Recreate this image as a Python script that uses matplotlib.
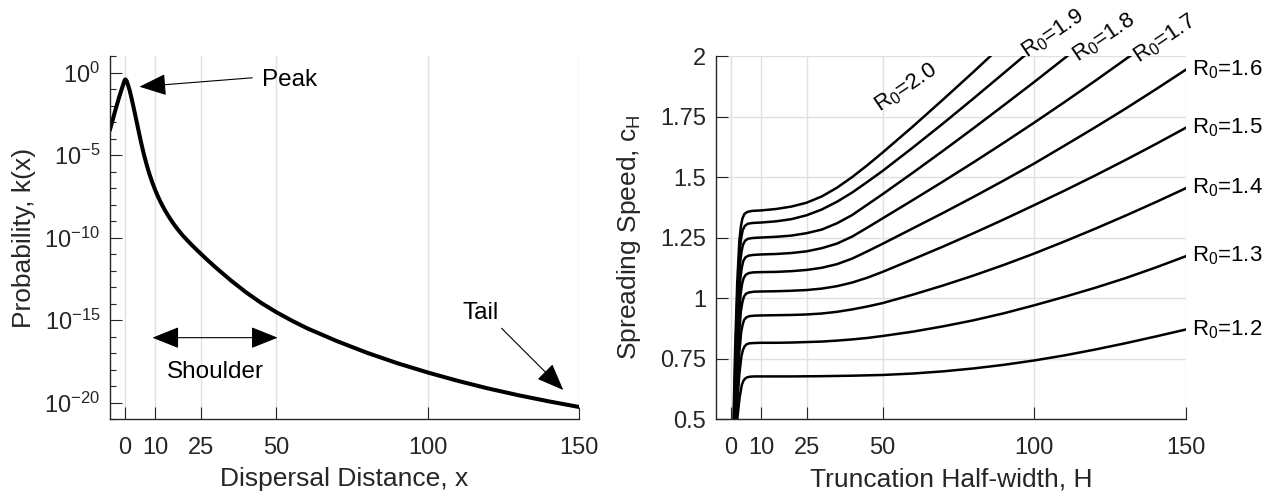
import matplotlib
matplotlib.use('Agg')
import matplotlib.pyplot as plt
import numpy as np
from matplotlib.ticker import FixedLocator, LogLocator, NullFormatter, LogFormatterSciNotation, FuncFormatter

plt.rcParams['font.family'] = ['Liberation Sans', 'DejaVu Sans']
plt.rcParams['mathtext.default'] = 'regular'

INK = '#262626'
GRID = '#e0e0e0'

# dispersal kernel k(x), stored as log10 values
dist_x = [-5, -4, -3, -2, -1, -0.5, -0.2, 0, 0.25, 0.5, 1, 1.5, 2, 2.5, 3, 3.5, 4, 4.5, 5,
          5.5, 6, 6.5, 7, 7.5, 8, 9, 10, 11, 12, 13, 14, 15, 16, 17, 18, 19, 20, 22, 24, 27,
          30, 35, 40, 45, 50, 55, 60, 70, 80, 90, 100, 110, 120, 130, 140, 150]
log_k = [-3.44, -2.78, -2.13, -1.5, -0.92, -0.64, -0.48, -0.42, -0.45, -0.52, -0.78, -1.1,
         -1.48, -1.88, -2.3, -2.73, -3.16, -3.6, -4.02, -4.43, -4.82, -5.18, -5.52, -5.84,
         -6.14, -6.68, -7.16, -7.58, -7.96, -8.3, -8.61, -8.9, -9.17, -9.42, -9.65, -9.87,
         -10.07, -10.45, -10.81, -11.33, -11.83, -12.61, -13.33, -13.97, -14.53, -15.03,
         -15.49, -16.28, -16.99, -17.62, -18.18, -18.69, -19.15, -19.56, -19.93, -20.27]
x_ticks = [0, 10, 25, 50, 100, 150]

# spreading speed c_H against truncation half-width H, one curve per R0
H_12 = [1.5, 2.2, 2.9, 3.6, 4.1, 4.6, 5.3, 6.3, 7.8, 10, 20, 30, 40, 50, 60, 70, 80, 90,
        100, 110, 120, 130, 140, 150]
C_12 = [0.40, 0.510, 0.590, 0.640, 0.657, 0.666, 0.672, 0.675, 0.676, 0.676, 0.676, 0.677,
        0.679, 0.682, 0.688, 0.697, 0.709, 0.724, 0.742, 0.763, 0.787, 0.813, 0.841, 0.870]
H_13 = [1.4, 2.1, 2.8, 3.5, 4.0, 4.5, 5.2, 6.2, 7.7, 10, 15, 20, 25, 30, 35, 40, 45, 50,
        60, 70, 80, 90, 100, 110, 120, 130, 140, 150]
C_13 = [0.40, 0.566, 0.686, 0.761, 0.786, 0.800, 0.809, 0.813, 0.814, 0.815, 0.815, 0.816,
        0.818, 0.820, 0.824, 0.829, 0.835, 0.843, 0.861, 0.883, 0.908, 0.937, 0.970, 1.005,
        1.042, 1.082, 1.126, 1.173]
H_14 = [1.3, 2.0, 2.7, 3.4, 3.9, 4.4, 5.1, 6.1, 7.6, 10, 15, 20, 25, 30, 35, 40, 45, 50,
        60, 70, 80, 90, 100, 110, 120, 130, 140, 150]
C_14 = [0.40, 0.611, 0.764, 0.859, 0.891, 0.910, 0.920, 0.925, 0.927, 0.928, 0.929, 0.930,
        0.932, 0.936, 0.943, 0.953, 0.965, 0.979, 1.014, 1.052, 1.093, 1.137, 1.184, 1.234,
        1.286, 1.340, 1.396, 1.454]
H_15 = [1.2, 1.9, 2.6, 3.3, 3.8, 4.3, 5.0, 6.0, 7.5, 10, 15, 20, 25, 30, 35, 40, 45, 50,
        60, 70, 80, 90, 100, 110, 120, 130, 140, 150]
C_15 = [0.40, 0.651, 0.833, 0.945, 0.983, 1.005, 1.018, 1.023, 1.026, 1.027, 1.028, 1.030,
        1.033, 1.039, 1.049, 1.064, 1.084, 1.108, 1.160, 1.213, 1.268, 1.325, 1.384, 1.444,
        1.506, 1.570, 1.636, 1.704]
H_16 = [1.1, 1.8, 2.5, 3.2, 3.7, 4.2, 4.9, 5.9, 7.4, 10, 15, 20, 25, 30, 35, 40, 45, 50,
        60, 70, 80, 90, 100, 110, 120, 130, 140, 150]
C_16 = [0.40, 0.683, 0.888, 1.015, 1.058, 1.082, 1.096, 1.103, 1.106, 1.107, 1.108, 1.111,
        1.116, 1.125, 1.140, 1.163, 1.193, 1.224, 1.288, 1.352, 1.418, 1.486, 1.556, 1.630,
        1.705, 1.782, 1.862, 1.944]
H_17 = [1.0, 1.7, 2.4, 3.1, 3.6, 4.1, 4.8, 5.8, 7.3, 10, 15, 20, 25, 30, 35, 40, 45, 50,
        60, 70, 80, 90, 100, 110, 120, 132]
C_17 = [0.40, 0.712, 0.938, 1.079, 1.125, 1.153, 1.168, 1.175, 1.178, 1.180, 1.182, 1.186,
        1.193, 1.206, 1.225, 1.254, 1.291, 1.329, 1.405, 1.482, 1.561, 1.642, 1.725, 1.810,
        1.897, 2.004]
H_18 = [0.9, 1.6, 2.3, 3.0, 3.5, 4.0, 4.7, 5.7, 7.2, 10, 15, 20, 25, 30, 35, 40, 45, 50,
        60, 70, 80, 90, 100, 112]
C_18 = [0.40, 0.74, 0.987, 1.140, 1.191, 1.220, 1.237, 1.245, 1.248, 1.250, 1.253, 1.258,
        1.268, 1.283, 1.309, 1.343, 1.386, 1.429, 1.518, 1.609, 1.702, 1.797, 1.893, 2.011]
H_19 = [0.8, 1.5, 2.2, 2.9, 3.4, 3.9, 4.6, 5.6, 7.1, 10, 15, 20, 25, 30, 35, 40, 45, 50,
        60, 70, 80, 90, 97]
C_19 = [0.40, 0.765, 1.029, 1.193, 1.248, 1.280, 1.298, 1.307, 1.310, 1.312, 1.317, 1.326,
        1.342, 1.366, 1.398, 1.436, 1.480, 1.525, 1.622, 1.722, 1.825, 1.930, 2.004]
H_20 = [0.7, 1.4, 2.1, 2.8, 3.3, 3.8, 4.5, 5.5, 7, 10, 15, 20, 25, 30, 35, 40, 45, 50,
        60, 70, 80, 86]
C_20 = [0.40, 0.785, 1.064, 1.237, 1.295, 1.328, 1.348, 1.356, 1.360, 1.362, 1.368, 1.378,
        1.394, 1.420, 1.456, 1.500, 1.549, 1.601, 1.709, 1.821, 1.935, 2.005]

r0_labels = ['1.2', '1.3', '1.4', '1.5', '1.6', '1.7', '1.8', '1.9', '2.0']
speed_ticks = [0.5, 0.75, 1, 1.25, 1.5, 1.75, 2]

fig = plt.figure(figsize=(12.62, 4.94), dpi=100)
ax1 = fig.add_axes([0.0872, 0.1518, 0.3716, 0.7348])
ax2 = fig.add_axes([0.5671, 0.1518, 0.3727, 0.7348])

for ax in (ax1, ax2):
    ax.spines[['top', 'right']].set_visible(False)
    ax.spines[['left', 'bottom']].set_color(INK)
    ax.spines[['left', 'bottom']].set_linewidth(1.0)
    ax.tick_params(which='major', direction='in', length=8.6, width=0.8, colors=INK,
                   labelsize=17, pad=7)
    ax.tick_params(axis='x', pad=13)
    ax.tick_params(which='minor', direction='in', length=4.3, width=0.8, colors=INK)
    ax.set_axisbelow(True)
    ax.set_xlim(-5, 150)
    ax.set_xticks(x_ticks)

# left panel: kernel on a log axis
ax1.plot(dist_x, 10.0 ** np.array(log_k), color='k', lw=2.9, solid_joinstyle='round')
ax1.set_yscale('log')
ax1.set_ylim(1e-21, 1e1)
ax1.yaxis.set_major_locator(FixedLocator([1e0, 1e-5, 1e-10, 1e-15, 1e-20]))
ax1.yaxis.set_major_formatter(LogFormatterSciNotation())
ax1.yaxis.set_minor_locator(LogLocator(base=10, subs=(1.0,), numticks=40))
ax1.yaxis.set_minor_formatter(NullFormatter())
ax1.grid(axis='x', color=GRID, lw=1.0)
ax1.set_xlabel('Dispersal Distance, x', fontsize=19, color=INK, labelpad=6)
ax1.set_ylabel('Probability, k(x)', fontsize=19, color=INK, labelpad=6)

head = '-|>,head_length=0.85,head_width=0.34'
ax1.annotate('', xy=(4.7, 10 ** -0.86), xytext=(42, 10 ** -0.32),
             arrowprops=dict(arrowstyle=head, mutation_scale=20, color='k', lw=0.8,
                             shrinkA=0, shrinkB=0))
ax1.text(45.3, 10 ** -0.45, 'Peak', ha='left', va='center', fontsize=17.5)

ax1.annotate('', xy=(50.4, 10 ** -16.07), xytext=(9, 10 ** -16.07),
             arrowprops=dict(arrowstyle='<|-|>,head_length=0.85,head_width=0.34',
                             mutation_scale=20, color='k', lw=0.8, shrinkA=0, shrinkB=0))
ax1.text(29.7, 10 ** -18.13, 'Shoulder', ha='center', va='center', fontsize=17.5)

ax1.annotate('', xy=(144.8, 10 ** -19.24), xytext=(124.4, 10 ** -15.5),
             arrowprops=dict(arrowstyle=head, mutation_scale=20, color='k', lw=0.8,
                             shrinkA=0, shrinkB=0))
ax1.text(117.6, 10 ** -14.6, 'Tail', ha='center', va='center', fontsize=17.5)

# right panel: spreading speed curves
curves = [(H_12, C_12), (H_13, C_13), (H_14, C_14), (H_15, C_15), (H_16, C_16),
          (H_17, C_17), (H_18, C_18), (H_19, C_19), (H_20, C_20)]
for hs, cs in curves:
    ax2.plot(hs, cs, color='k', lw=1.8, solid_joinstyle='round')

ax2.set_ylim(0.5, 2)
ax2.set_yticks(speed_ticks)
ax2.yaxis.set_major_formatter(FuncFormatter(lambda v, p: f'{v:g}'))
ax2.grid(True, color=GRID, lw=1.0)
ax2.set_xlabel('Truncation Half-width, H', fontsize=19, color=INK, labelpad=6)
ax2.set_ylabel('Spreading Speed, c$_H$', fontsize=19, color=INK, labelpad=12)

# labels at the right-hand ends
for lab, (hs, cs) in zip(r0_labels[:5], curves[:5]):
    ax2.annotate(f'R$_0$={lab}', xy=(hs[-1], cs[-1]), xytext=(4, 0),
                 textcoords='offset points', ha='left', va='center', fontsize=16,
                 annotation_clip=False)

# slanted labels where curves leave the top
slant_pos = [(134.4, 1.970), (114.2, 1.975), (97.5, 1.989), (49.2, 1.769)]
for lab, (px, py) in zip(r0_labels[5:], slant_pos):
    ax2.text(px, py, f'R$_0$={lab}', rotation=34, rotation_mode='anchor',
             ha='left', va='baseline', fontsize=16, clip_on=False)

fig.savefig('out.png', dpi=100)
